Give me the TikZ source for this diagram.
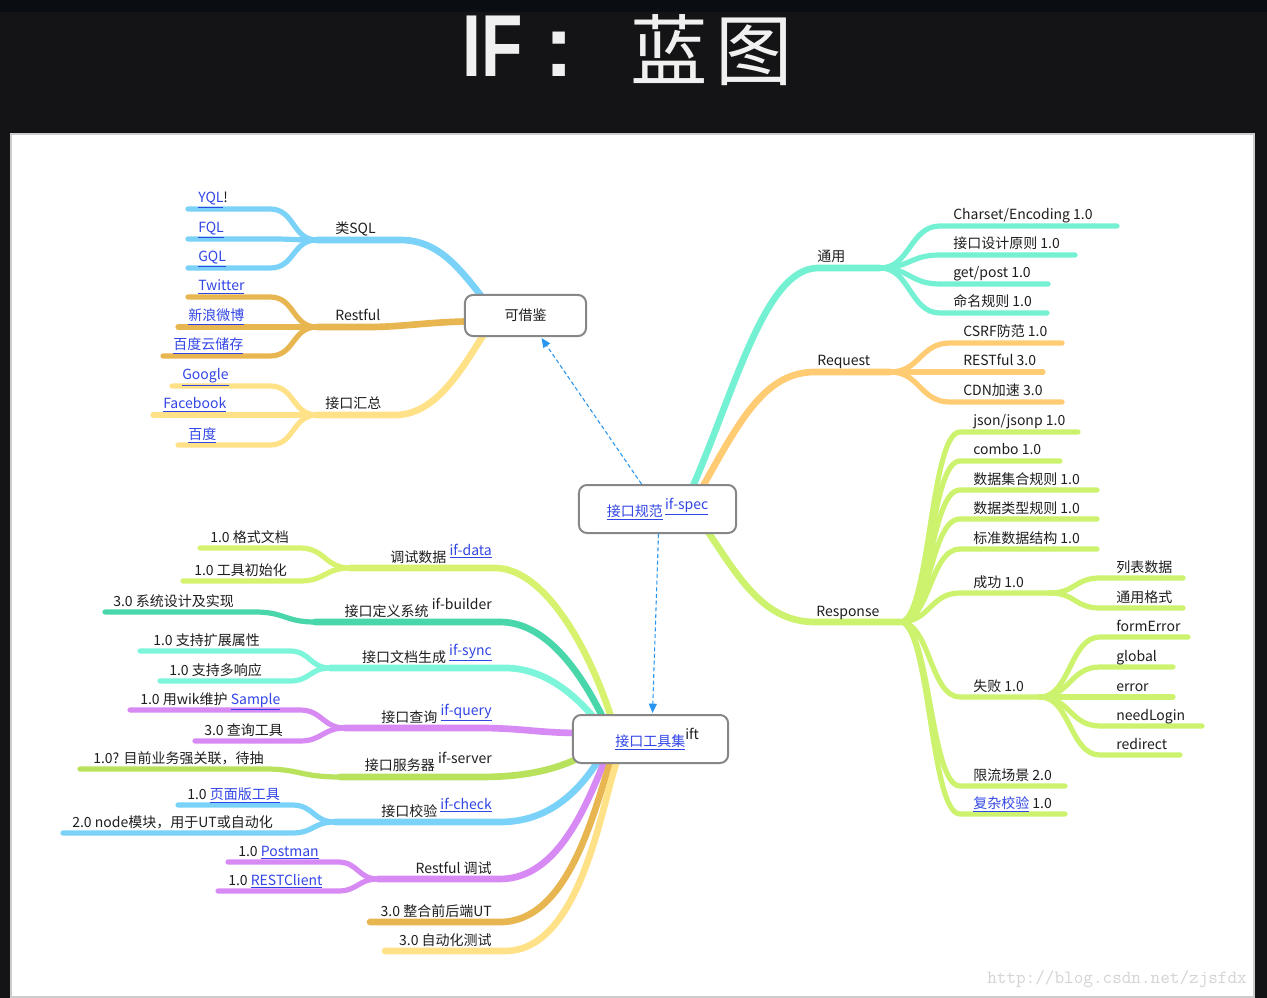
\documentclass[tikz,border=0pt]{standalone}
\usepackage{fontspec}
\setmainfont{Noto Sans CJK SC}
\newfontfamily\titlefont{Liberation Sans}
\usetikzlibrary{arrows.meta,calc}
\pgfdeclarelayer{bg}
\pgfdeclarelayer{lines}
\pgfsetlayers{bg,lines,main}
\definecolor{cDark}{RGB}{20,20,22}
\definecolor{cBand}{RGB}{10,13,17}
\definecolor{cTitle}{RGB}{240,240,240}
\definecolor{cTurq}{RGB}{116,240,210}
\definecolor{cOrange}{RGB}{255,203,115}
\definecolor{cGreen}{RGB}{204,242,110}
\definecolor{cSky}{RGB}{122,210,248}
\definecolor{cGold}{RGB}{232,182,80}
\definecolor{cPale}{RGB}{255,225,135}
\definecolor{cYG}{RGB}{214,242,110}
\definecolor{cTeal}{RGB}{72,214,170}
\definecolor{cAqua}{RGB}{125,245,218}
\definecolor{cViolet}{RGB}{216,138,244}
\definecolor{cLime}{RGB}{184,226,92}
\definecolor{cLink}{RGB}{50,70,230}
\definecolor{cText}{RGB}{30,30,30}
\definecolor{cBox}{RGB}{135,135,135}
\definecolor{cArrow}{RGB}{40,150,240}
\definecolor{cMark}{RGB}{212,212,212}
\newcommand\lf{\fontsize{10.5}{12}\selectfont}
\newcommand\lnk[1]{\textcolor{cLink}{\underline{#1}}}
\newcommand\upt[1]{\raisebox{5pt}{#1}}
\begin{document}
\begin{tikzpicture}[x=0.75pt,y=-0.75pt,
  branch/.style={line width=5pt,line cap=round},
  twig/.style={line width=3.9pt,line cap=round},
  lbl/.style={anchor=base west,inner sep=0pt,text=cText,font=\lf},
  rlbl/.style={anchor=base east,inner sep=0pt,text=cText,font=\lf},
  mapbox/.style={draw=cBox,line width=1.5pt,rounded corners=6pt,fill=white,text=cText,font=\lf},
  dasharr/.style={cArrow,line width=0.8pt,dash pattern=on 3pt off 2pt,-{Triangle[length=7pt,width=6pt]}}]
\useasboundingbox (0,0) rectangle (1267,998);
\begin{pgfonlayer}{bg}
\fill[cDark] (0,0) rectangle (1267,998);
\fill[cBand] (0,0) rectangle (1267,12);
\fill[white] (11,134) rectangle (1254,997);
\draw[gray!40,line width=0.8pt] (11,134) rectangle (1254,997);
\end{pgfonlayer}

% title
\node[anchor=base west,inner sep=0pt,text=cTitle,font=\titlefont\bfseries\fontsize{66}{70}\selectfont] (tIF) at (462,77) {\scalebox{0.77}[1]{IF}};
\node[anchor=base west,inner sep=0pt,text=cTitle,font=\titlefont\bfseries\fontsize{66}{70}\selectfont] (tColon) at (544,77) {:};
\node[anchor=base west,inner sep=0pt,text=cTitle,font=\fontsize{58}{62}\selectfont] (tBlue) at (630,80) {蓝\hspace{6pt}图};

% boxes
\node[mapbox,minimum width=117.8pt,minimum height=36pt] (spec) at (657.5,509) {\lnk{接口规范}\,\upt{\lnk{if-spec}}};
\node[mapbox,minimum width=90.8pt,minimum height=30.8pt] (ref) at (525.5,315.5) {可借鉴};
\node[mapbox,minimum width=116.3pt,minimum height=36pt] (tool) at (650.5,739) {\hspace*{10pt}\lnk{接口工具集}\upt{ift}};

% hubs
\coordinate (hTong) at (880,268);
\coordinate (hReq) at (890,372);
\coordinate (hResp) at (900,622);
\coordinate (hOk) at (1050,593);
\coordinate (hFail) at (1040,697);
\coordinate (hSQL) at (317,240);
\coordinate (hRest) at (317,327);
\coordinate (hSum) at (317,415);
\coordinate (hData) at (350,568);
\coordinate (hBuild) at (315,622);
\coordinate (hSync) at (330,668);
\coordinate (hQuery) at (345,728);
\coordinate (hServ) at (340,777);
\coordinate (hCheck) at (335,822);
\coordinate (hRest2) at (378,879);
\coordinate (eUT) at (370,922);
\coordinate (eAuto) at (385,951);

\begin{pgfonlayer}{lines}
% right side
\draw[branch,cTurq] ($(spec.north)+(35,3)$) .. controls (735,390) and (765,268) .. (818,268) -- (hTong);
\foreach \y/\xe in {226/1117,255/1075,284/1048,313/1047}
  \draw[twig,cTurq] (hTong) .. controls +(30,0) and +(-30,0) .. (940,\y) -- (\xe,\y);
\draw[branch,cOrange] ($(spec.north)+(45,3)$) .. controls (740,420) and (765,372) .. (815,372) -- (hReq);
\foreach \y/\xe in {343/1062,372/1043,402/1062}
  \draw[twig,cOrange] (hReq) .. controls +(30,0) and +(-30,0) .. (950,\y) -- (\xe,\y);
\draw[branch,cGreen] ($(spec.south)+(50,-3)$) .. controls (740,580) and (765,622) .. (815,622) -- (hResp);
\foreach \y/\xe in {432/1078,461/1060,490/1097,519/1097,549/1097,786/1065,814/1065}
  \draw[twig,cGreen] (hResp) .. controls +(30,0) and +(-30,0) .. (960,\y) -- (\xe,\y);
\draw[twig,cGreen] (hResp) .. controls +(30,0) and +(-30,0) .. (960,593) -- (hOk);
\draw[twig,cGreen] (hResp) .. controls +(30,0) and +(-30,0) .. (960,697) -- (hFail);
\foreach \y/\xe in {578/1183,608/1183}
  \draw[twig,cGreen] (hOk) .. controls +(25,0) and +(-25,0) .. (1100,\y) -- (\xe,\y);
\foreach \y/\xe in {637/1188,667/1173,697/1173,726/1202,755/1180}
  \draw[twig,cGreen] (hFail) .. controls +(30,0) and +(-30,0) .. (1100,\y) -- (\xe,\y);
% left top
\draw[branch,cSky] ($(ref.north west)+(18,3)$) .. controls (455,262) and (435,240) .. (400,240) -- (hSQL);
\foreach \y in {209,239,268}
  \draw[twig,cSky] (hSQL) .. controls +(-25,0) and +(25,0) .. (270,\y) -- (188,\y);
\draw[branch,cGold] ($(ref.west)+(3,6)$) .. controls (430,322) and (400,327) .. (370,327) -- (hRest);
\foreach \y/\xe in {297/188,327/178,356/163}
  \draw[twig,cGold] (hRest) .. controls +(-25,0) and +(25,0) .. (270,\y) -- (\xe,\y);
\draw[branch,cPale] ($(ref.south west)+(20,-3)$) .. controls (460,372) and (435,415) .. (395,415) -- (hSum);
\foreach \y/\xe in {386/172,415/153,445/178}
  \draw[twig,cPale] (hSum) .. controls +(-25,0) and +(25,0) .. (270,\y) -- (\xe,\y);
% left bottom
\draw[branch,cYG] (hData) -- (495,568) .. controls (545,568) and (590,650) .. (612,720);
\foreach \y/\xe in {548/200,581/183}
  \draw[twig,cYG] (hData) .. controls +(-25,0) and +(25,0) .. (300,\y) -- (\xe,\y);
\draw[branch,cTeal] (hBuild) -- (500,622) .. controls (545,622) and (580,670) .. (604,720);
\draw[twig,cTeal] (hBuild) .. controls (285,622) and (285,612) .. (255,612) -- (105,612);
\draw[branch,cAqua] (hSync) -- (505,668) .. controls (545,668) and (575,695) .. (596,720);
\foreach \y/\xe in {651/140,681/160}
  \draw[twig,cAqua] (hSync) .. controls +(-20,0) and +(20,0) .. (290,\y) -- (\xe,\y);
\draw[branch,cViolet] (hQuery) -- (480,728) .. controls (520,728) and (540,733) .. (580,733);
\foreach \y/\xe in {710/130,741/195}
  \draw[twig,cViolet] (hQuery) .. controls +(-22,0) and +(22,0) .. (300,\y) -- (\xe,\y);
\draw[branch,cLime] (hServ) -- (480,777) .. controls (530,777) and (560,768) .. (585,755);
\draw[twig,cLime] (hServ) .. controls (300,777) and (300,769) .. (265,769) -- (80,769);
\draw[branch,cSky] (hCheck) -- (500,822) .. controls (550,822) and (580,790) .. (600,758);
\foreach \y/\xe in {805/178,833/63}
  \draw[twig,cSky] (hCheck) .. controls +(-22,0) and +(22,0) .. (292,\y) -- (\xe,\y);
\draw[branch,cViolet] (hRest2) -- (500,879) .. controls (560,879) and (588,800) .. (606,758);
\foreach \y/\xe in {862/228,891/218}
  \draw[twig,cViolet] (hRest2) .. controls +(-20,0) and +(20,0) .. (338,\y) -- (\xe,\y);
\draw[branch,cGold] (eUT) -- (500,922) .. controls (572,922) and (596,800) .. (612,758);
\draw[branch,cPale] (eAuto) -- (505,951) .. controls (582,951) and (602,800) .. (618,758);
\end{pgfonlayer}

% arrows
\draw[dasharr] ($(spec.north)+(-16,0)$) -- ($(ref.south)+(16,1)$);
\draw[dasharr] ($(spec.south)+(1,0)$) -- ($(tool.north)+(2,-1)$);

% right labels
\node[lbl] (lTong) at (817,262) {通用};
\node[lbl] (lCharset) at (953,220) {Charset/Encoding 1.0};
\node[lbl] (lPrin) at (953,249) {接口设计原则 1.0};
\node[lbl] (lGet) at (953,278) {get/post 1.0};
\node[lbl] (lName) at (953,307) {命名规则 1.0};
\node[lbl] (lReq) at (817,366) {Request};
\node[lbl] (lCsrf) at (963,337) {CSRF防范 1.0};
\node[lbl] (lRestf) at (963,366) {RESTful 3.0};
\node[lbl] (lCdn) at (963,396) {CDN加速 3.0};
\node[lbl] (lResp) at (816,616) {Response};
\node[lbl] (lJson) at (973,426) {json/jsonp 1.0};
\node[lbl] (lCombo) at (973,455) {combo 1.0};
\node[lbl] (lSet) at (973,484) {数据集合规则 1.0};
\node[lbl] (lType) at (973,513) {数据类型规则 1.0};
\node[lbl] (lStd) at (973,543) {标准数据结构 1.0};
\node[lbl] (lOk) at (973,587) {成功 1.0};
\node[lbl] (lList) at (1116,572) {列表数据};
\node[lbl] (lFmt) at (1116,602) {通用格式};
\node[lbl] (lFail) at (973,691) {失败 1.0};
\node[lbl] (lForm) at (1116,631) {formError};
\node[lbl] (lGlob) at (1116,661) {global};
\node[lbl] (lErr) at (1116,691) {error};
\node[lbl] (lLogin) at (1116,720) {needLogin};
\node[lbl] (lRedir) at (1116,749) {redirect};
\node[lbl] (lLimit) at (973,780) {限流场景 2.0};
\node[lbl] (lCplx) at (973,808) {\lnk{复杂校验} 1.0};
% left top labels
\node[lbl] (lSQL) at (335,234) {类SQL};
\node[lbl] (lYQL) at (198,203) {\lnk{YQL}!};
\node[lbl] (lFQL) at (198,233) {\lnk{FQL}};
\node[lbl] (lGQL) at (198,262) {\lnk{GQL}};
\node[lbl] (lRestful) at (335,321) {Restful};
\node[lbl] (lTw) at (198,291) {\lnk{Twitter}};
\node[lbl] (lSina) at (188,321) {\lnk{新浪微博}};
\node[lbl] (lBdy) at (173,350) {\lnk{百度云储存}};
\node[lbl] (lSum) at (325,409) {接口汇总};
\node[lbl] (lGoo) at (182,380) {\lnk{Google}};
\node[lbl] (lFb) at (163,409) {\lnk{Facebook}};
\node[lbl] (lBd) at (188,439) {\lnk{百度}};
% left bottom labels
\node[rlbl] (lData) at (492,562) {调试数据 \upt{\lnk{if-data}}};
\node[lbl] (lDoc) at (210,542) {1.0 格式文档};
\node[lbl] (lInit) at (194,575) {1.0 工具初始化};
\node[rlbl] (lBuild) at (492,616) {接口定义系统 \upt{if-builder}};
\node[lbl] (lSys) at (113,606) {3.0 系统设计及实现};
\node[rlbl] (lSync) at (492,662) {接口文档生成 \upt{\lnk{if-sync}}};
\node[lbl] (lExt) at (153,645) {1.0 支持扩展属性};
\node[lbl] (lMulti) at (169,675) {1.0 支持多响应};
\node[rlbl] (lQuery) at (492,722) {接口查询 \upt{\lnk{if-query}}};
\node[lbl] (lWik) at (140,704) {1.0 用wik维护 \lnk{Sample}};
\node[lbl] (lQtool) at (204,735) {3.0 查询工具};
\node[rlbl] (lServ) at (492,770) {接口服务器 \upt{if-server}};
\node[lbl] (lBiz) at (93,763) {1.0? 目前业务强关联，待抽};
\node[rlbl] (lCheck) at (492,816) {接口校验 \upt{\lnk{if-check}}};
\node[lbl] (lPage) at (187,799) {1.0 \lnk{页面版工具}};
\node[lbl] (lNode) at (72,827) {2.0 node模块，用于UT或自动化};
\node[rlbl] (lRdbg) at (492,873) {Restful 调试};
\node[lbl] (lPost) at (238,856) {1.0 \lnk{Postman}};
\node[lbl] (lRc) at (228,885) {1.0 \lnk{RESTClient}};
\node[rlbl] (lUT) at (492,916) {3.0 整合前后端UT};
\node[rlbl] (lAuto) at (492,945) {3.0 自动化测试};

% watermark
\node[anchor=base west,inner sep=0pt,text=cMark,font=\ttfamily\fontsize{14}{14}\selectfont] (wm) at (987,983) {http://blog.csdn.net/zjsfdx};
\end{tikzpicture}
\end{document}
